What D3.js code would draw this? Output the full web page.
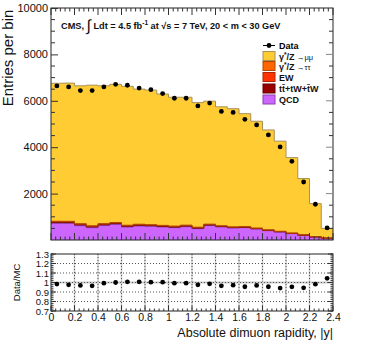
<!DOCTYPE html>
<html>
<head>
<meta charset="utf-8">
<script src="https://cdn.jsdelivr.net/npm/d3@7"></script>
<style>
  body { margin: 0; background: #fff; }
  svg { font-family: "Liberation Sans", Arial, sans-serif; }
</style>
</head>
<body>
<div id="chart"></div>
<script>
// bin low edges in |y|, width 0.1
const binLow = [0.0, 0.1, 0.2, 0.3, 0.4, 0.5, 0.6, 0.7, 0.8, 0.9, 1.0, 1.1,
                1.2, 1.3, 1.4, 1.5, 1.6, 1.7, 1.8, 1.9, 2.0, 2.1, 2.2, 2.3];
const binWidth = 0.1;

// data counts
const dataCounts = [6640, 6600, 6440, 6440, 6600, 6710, 6670, 6550, 6480, 6310, 6110, 6110,
                    5780, 5900, 5540, 5500, 5200, 4960, 4530, 4010, 3390, 2500, 1540, 520];

// MC components (stacked bottom to top)
const qcd    = [718, 718, 618, 532, 625, 675, 560, 604, 590, 560, 532, 575,
                489, 625, 560, 517, 532, 474, 402, 345, 273, 201, 130, 72];
const ttbar  = [40, 38, 38, 36, 35, 34, 33, 32, 30, 29, 28, 27,
                26, 24, 22, 20, 18, 16, 14, 12, 10, 8, 6, 4];
const ew     = [20, 19, 19, 18, 18, 17, 17, 16, 16, 15, 15, 14,
                14, 13, 12, 11, 10, 9, 8, 7, 6, 5, 4, 3];
const tautau = [30, 30, 29, 29, 28, 28, 27, 27, 26, 26, 25, 24,
                23, 22, 21, 20, 18, 16, 14, 12, 10, 8, 5, 3];
const mumu   = [5947, 5957, 5942, 6059, 5941, 5956, 5987, 5825, 5798, 5661, 5553, 5513,
                5370, 5300, 5126, 5090, 4867, 4604, 4305, 3885, 3251, 2426, 1422, 416];

const components = [
  { key: "qcd",    label: "QCD",          values: qcd,    fill: "#cc66ff", stroke: "#8a3fb0" },
  { key: "ttbar",  label: "tt̄+tW+t̄W",     values: ttbar,  fill: "#990000", stroke: "#660000" },
  { key: "ew",     label: "EW",           values: ew,     fill: "#ff3300", stroke: "#b02400" },
  { key: "tautau", label: "γ*/Z →ττ",     values: tautau, fill: "#ff6600", stroke: "#b04600" },
  { key: "mumu",   label: "γ*/Z →μμ",     values: mumu,   fill: "#ffcc33", stroke: "#a8905a" }
];

const W = 374, H = 359;
const svg = d3.select("#chart").append("svg")
  .attr("width", W).attr("height", H);

// layout
const xL = 51, xR = 333;
const mainTop = 8, mainBot = 240;
const ratTop = 254, ratBot = 311;

const x = d3.scaleLinear().domain([0, 2.4]).range([xL, xR]);
const y = d3.scaleLinear().domain([0, 10000]).range([mainBot, mainTop]);
const yr = d3.scaleLinear().domain([0.7, 1.3]).range([ratBot, ratTop]);

// stack
const rows = binLow.map((b, i) => {
  const r = { lo: b };
  components.forEach(c => r[c.key] = c.values[i]);
  return r;
});
const stack = d3.stack().keys(components.map(c => c.key));
const series = stack(rows);

// step points: add closing edge
function stepPts(s) {
  const pts = s.map((d, i) => ({ x: binLow[i], y0: d[0], y1: d[1] }));
  const last = pts[pts.length - 1];
  pts.push({ x: last.x + binWidth, y0: last.y0, y1: last.y1 });
  return pts;
}
const area = d3.area().curve(d3.curveStepAfter)
  .x(d => x(d.x)).y0(d => y(d.y0)).y1(d => y(d.y1));
const topLine = d3.line().curve(d3.curveStepAfter)
  .x(d => x(d.x)).y(d => y(d.y1));

const g = svg.append("g");
series.forEach((s, k) => {
  const c = components[k];
  g.append("path").attr("d", area(stepPts(s))).attr("fill", c.fill);
});
series.forEach((s, k) => {
  const c = components[k];
  g.append("path").attr("d", topLine(stepPts(s))).attr("fill", "none")
    .attr("stroke", c.stroke).attr("stroke-width", 1);
});

// frame main
svg.append("rect").attr("x", xL).attr("y", mainTop)
  .attr("width", xR - xL).attr("height", mainBot - mainTop)
  .attr("fill", "none").attr("stroke", "#222").attr("stroke-width", 1);

// main y axis
const yAxL = d3.axisLeft(y).tickValues([2000, 4000, 6000, 8000, 10000])
  .tickSize(7).tickPadding(3).tickFormat(d3.format("d"));
svg.append("g").attr("transform", `translate(${xL},0)`).call(yAxL)
  .call(a => a.select(".domain").remove())
  .call(a => a.selectAll(".tick line").attr("x2", 7).attr("stroke", "#333"))
  .call(a => a.selectAll("text").attr("x", -3).attr("font-size", 11).attr("fill", "#111"));
// minor ticks left/right
const yMinor = d3.range(0, 10001, 500).filter(v => v % 2000 !== 0);
svg.append("g").selectAll("line").data(yMinor).join("line")
  .attr("x1", xL).attr("x2", xL + 4).attr("y1", d => y(d)).attr("y2", d => y(d))
  .attr("stroke", "#333");
svg.append("g").selectAll("line").data(yMinor).join("line")
  .attr("x1", xR).attr("x2", xR - 4).attr("y1", d => y(d)).attr("y2", d => y(d))
  .attr("stroke", "#333");
svg.append("g").selectAll("line").data([2000, 4000, 6000, 8000]).join("line")
  .attr("x1", xR).attr("x2", xR - 7).attr("y1", d => y(d)).attr("y2", d => y(d))
  .attr("stroke", "#888");

// main x ticks (bottom and top)
const xMajor = [0, 0.2, 0.4, 0.6, 0.8, 1.0, 1.2, 1.4, 1.6, 1.8, 2.0, 2.2, 2.4];
const xMinor = d3.range(0, 2.4001, 0.04).filter(v => Math.abs(v / 0.2 - Math.round(v / 0.2)) > 1e-6);
function xTicks(yBase, dir) {
  svg.append("g").selectAll("line").data(xMajor).join("line")
    .attr("x1", d => x(d)).attr("x2", d => x(d))
    .attr("y1", yBase).attr("y2", yBase + dir * 7).attr("stroke", "#333");
  svg.append("g").selectAll("line").data(xMinor).join("line")
    .attr("x1", d => x(d)).attr("x2", d => x(d))
    .attr("y1", yBase).attr("y2", yBase + dir * 3.5).attr("stroke", "#333");
}
xTicks(mainBot, -1);
xTicks(mainTop, 1);

// data points
svg.append("g").selectAll("circle").data(dataCounts).join("circle")
  .attr("cx", (d, i) => x(binLow[i] + binWidth / 2))
  .attr("cy", d => y(d)).attr("r", 2.4).attr("fill", "#000");

// y title
svg.append("text").attr("transform", "translate(13,58) rotate(-90)")
  .attr("text-anchor", "middle").attr("font-size", 15).attr("fill", "#111")
  .text("Entries per bin");

// header
const hdr = svg.append("text").attr("x", 61).attr("y", 29)
  .attr("font-size", 9.2).attr("font-weight", "bold").attr("fill", "#111");
hdr.append("tspan").text("CMS, ");
hdr.append("tspan").attr("font-size", 16).attr("font-weight", "normal").attr("dy", 2).text("∫");
hdr.append("tspan").attr("dy", -2).text(" Ldt = 4.5 fb");
hdr.append("tspan").attr("font-size", 6.5).attr("dy", -4).text("-1");
hdr.append("tspan").attr("dy", 4).text(" at √s = 7 TeV, 20 < m < 30 GeV");

// legend
const legX = 263, legRows = [45.5, 56, 66, 77, 88.5, 99.5];
const lg = svg.append("g");
lg.append("line").attr("x1", legX).attr("x2", legX + 12)
  .attr("y1", legRows[0]).attr("y2", legRows[0]).attr("stroke", "#000");
lg.append("circle").attr("cx", legX + 6).attr("cy", legRows[0]).attr("r", 2.4).attr("fill", "#000");
lg.append("text").attr("x", legX + 16).attr("y", legRows[0] + 3.5)
  .attr("font-size", 9).attr("font-weight", "bold").text("Data");
const legOrder = ["mumu", "tautau", "ew", "ttbar", "qcd"];
legOrder.forEach((k, i) => {
  const c = components.find(cc => cc.key === k);
  const yy = legRows[i + 1];
  lg.append("rect").attr("x", legX).attr("y", yy - 4.5).attr("width", 12).attr("height", 9)
    .attr("fill", c.fill).attr("stroke", c.stroke).attr("stroke-width", 1);
  const t = lg.append("text").attr("x", legX + 16).attr("y", yy + 3.5)
    .attr("font-size", 9).attr("fill", "#111");
  if (k === "mumu" || k === "tautau") {
    t.append("tspan").attr("font-weight", "bold").text("γ");
    t.append("tspan").attr("font-weight", "bold").attr("font-size", 6.5).attr("dy", -3).text("*");
    t.append("tspan").attr("font-weight", "bold").attr("dy", 3).text("/Z ");
    t.append("tspan").attr("font-size", 7.5).text(k === "mumu" ? "→μμ" : "→ττ");
  } else {
    t.attr("font-weight", "bold").text(c.label);
  }
});

// ratio panel
const ratio = dataCounts.map((d, i) => d / components.reduce((s, c) => s + c.values[i], 0));
const rg = svg.append("g");
const rTicks = [0.7, 0.8, 0.9, 1.0, 1.1, 1.2, 1.3];
// vertical grid
rg.selectAll("line.vg").data(xMajor.slice(1, -1)).join("line")
  .attr("x1", d => x(d)).attr("x2", d => x(d)).attr("y1", ratTop).attr("y2", ratBot)
  .attr("stroke", "#ccc").attr("stroke-width", 1.5);
rg.selectAll("line.vgd").data(xMajor.slice(1, -1)).join("line")
  .attr("x1", d => x(d)).attr("x2", d => x(d)).attr("y1", ratTop).attr("y2", ratBot)
  .attr("stroke", "#555").attr("stroke-dasharray", "1,2");
// horizontal grid
rg.append("line").attr("x1", xL).attr("x2", xR).attr("y1", yr(1)).attr("y2", yr(1))
  .attr("stroke", "#ccc").attr("stroke-width", 2);
rg.selectAll("line.hg").data(rTicks.slice(1, -1)).join("line")
  .attr("x1", xL).attr("x2", xR).attr("y1", d => yr(d)).attr("y2", d => yr(d))
  .attr("stroke", "#555").attr("stroke-dasharray", "1,2");
// frame
rg.append("rect").attr("x", xL).attr("y", ratTop).attr("width", xR - xL).attr("height", ratBot - ratTop)
  .attr("fill", "none").attr("stroke", "#222");
// ratio y axis
svg.append("g").attr("transform", `translate(${xL},0)`)
  .call(d3.axisLeft(yr).tickValues(rTicks).tickSize(0).tickPadding(2)
    .tickFormat(d => d === 1 ? "1" : d3.format(".1f")(d)))
  .call(a => a.select(".domain").remove())
  .call(a => a.selectAll("text").attr("font-size", 9.5).attr("dy", "0.34em").attr("fill", "#111"));
const rMinor = d3.range(0.7, 1.3001, 0.02);
[xL, xR].forEach((xx, j) => {
  svg.append("g").selectAll("line").data(rMinor).join("line")
    .attr("x1", xx).attr("x2", xx + (j ? -2.5 : 2.5))
    .attr("y1", d => yr(d)).attr("y2", d => yr(d)).attr("stroke", "#333");
  svg.append("g").selectAll("line").data(rTicks).join("line")
    .attr("x1", xx).attr("x2", xx + (j ? -5 : 5))
    .attr("y1", d => yr(d)).attr("y2", d => yr(d)).attr("stroke", "#333");
});
// ratio x axis
svg.append("g").attr("transform", `translate(0,${ratBot})`)
  .call(d3.axisBottom(x).tickValues(xMajor).tickSize(0).tickPadding(3)
    .tickFormat(d => d3.format("~g")(d)))
  .call(a => a.select(".domain").remove())
  .call(a => a.selectAll("text").attr("font-size", 10.5).attr("fill", "#111"));
svg.append("g").selectAll("line").data(xMajor).join("line")
  .attr("x1", d => x(d)).attr("x2", d => x(d)).attr("y1", ratBot).attr("y2", ratBot - 5).attr("stroke", "#333");
svg.append("g").selectAll("line").data(xMinor).join("line")
  .attr("x1", d => x(d)).attr("x2", d => x(d)).attr("y1", ratBot).attr("y2", ratBot - 2.5).attr("stroke", "#333");
// ratio points
svg.append("g").selectAll("circle").data(ratio).join("circle")
  .attr("cx", (d, i) => x(binLow[i] + binWidth / 2))
  .attr("cy", d => yr(d)).attr("r", 2.4).attr("fill", "#000");

svg.append("text").attr("transform", `translate(20,${(ratTop + ratBot) / 2}) rotate(-90)`)
  .attr("text-anchor", "middle").attr("font-size", 9.5).attr("fill", "#111").text("Data/MC");
svg.append("text").attr("x", xR).attr("y", 337).attr("text-anchor", "end")
  .attr("font-size", 12.5).attr("fill", "#111").text("Absolute dimuon rapidity, |y|");
</script>
</body>
</html>
